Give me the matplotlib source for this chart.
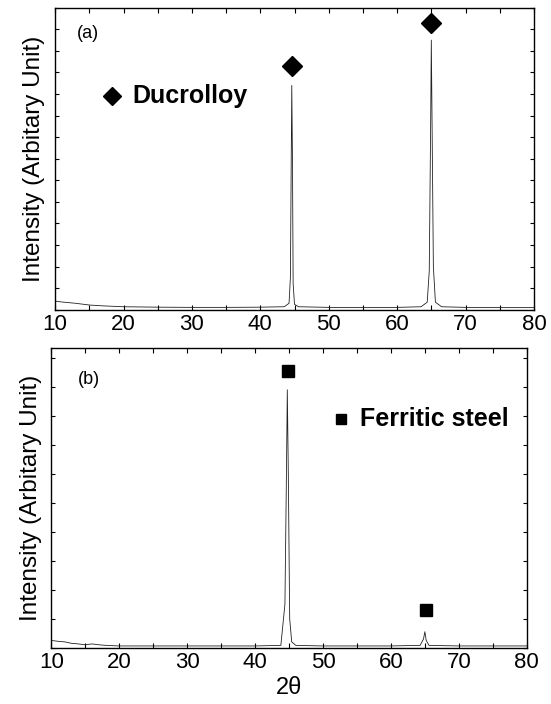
import matplotlib
matplotlib.use("Agg")
import matplotlib.pyplot as plt
from matplotlib.ticker import MultipleLocator

plt.rcParams['font.family'] = ['Liberation Sans', 'DejaVu Sans']

# (a) Ducrolloy pattern
tt_a = [10, 11, 12, 13, 14, 15, 17, 20, 25, 30, 35, 40, 43.5, 44.2, 44.4, 44.5, 44.6,
        44.7, 44.8, 45.0, 45.6, 50, 55, 60, 63.5, 64.4, 64.7, 64.9, 65.0, 65.1, 65.3,
        65.6, 66.5, 70, 75, 80]
int_a = [0.40, 0.36, 0.33, 0.30, 0.26, 0.22, 0.18, 0.14, 0.12, 0.11, 0.11, 0.12, 0.14,
         0.30, 1.5, 6.0, 10.4, 7.0, 1.2, 0.25, 0.14, 0.11, 0.10, 0.11, 0.14, 0.35, 1.8,
         8.5, 12.5, 9.0, 2.0, 0.35, 0.14, 0.11, 0.10, 0.10]
mark_a_x = [44.6, 65.0]
mark_a_y = [11.3, 13.3]

# (b) Ferritic steel pattern
tt_b = [10, 11, 12, 13, 14, 15, 16, 17, 18, 20, 25, 30, 35, 40, 43.8, 44.4, 44.6,
        44.75, 44.9, 45.1, 45.4, 46, 50, 55, 60, 64.3, 64.8, 65.0, 65.2, 65.6, 70, 75, 80]
int_b = [0.25, 0.22, 0.20, 0.15, 0.13, 0.10, 0.13, 0.10, 0.08, 0.06, 0.06, 0.06, 0.06,
         0.06, 0.08, 1.5, 5.5, 8.9, 6.0, 1.0, 0.2, 0.08, 0.06, 0.06, 0.06, 0.08, 0.3,
         0.55, 0.25, 0.08, 0.06, 0.06, 0.06]
mark_b_x = [44.8, 65.1]
mark_b_y = [9.55, 1.3]

xticks = [10, 20, 30, 40, 50, 60, 70, 80]

fig = plt.figure(figsize=(5.51, 7.04), dpi=100)
ax1 = fig.add_axes([0.100, 0.560, 0.869, 0.429])
ax2 = fig.add_axes([0.093, 0.080, 0.863, 0.426])


def style(ax, ytop):
    ax.set_xlim(10, 80)
    ax.set_ylim(0, ytop)
    ax.set_xticks(xticks)
    ax.xaxis.set_minor_locator(MultipleLocator(5))
    ax.yaxis.set_major_locator(MultipleLocator(1))
    ax.set_yticklabels([])
    ax.tick_params(which='both', direction='in', top=True, right=True,
                   length=3.5, width=0.8, labelsize=16, pad=3)
    ax.tick_params(axis='y', which='both', length=3)
    for s in ax.spines.values():
        s.set_linewidth(1.0)
    ax.set_ylabel('Intensity (Arbitary Unit)', fontsize=17.5, labelpad=4)


style(ax1, 14.0)
ax1.plot(tt_a, int_a, color='#222222', lw=0.6)
ax1.plot(mark_a_x, mark_a_y, 'D', color='black', ms=10.5, ls='none')
ax1.text(0.045, 0.90, '(a)', transform=ax1.transAxes, fontsize=13)
ax1.plot([18.3], [9.9], 'D', color='black', ms=9)
ax1.text(21.3, 9.9, 'Ducrolloy', fontsize=18, fontweight='bold', va='center')

style(ax2, 10.35)
ax2.plot(tt_b, int_b, color='#222222', lw=0.6)
ax2.plot(mark_b_x, mark_b_y, 's', color='black', ms=8.5, ls='none')
ax2.text(0.055, 0.88, '(b)', transform=ax2.transAxes, fontsize=13)
ax2.plot([52.7], [7.9], 's', color='black', ms=7.5)
ax2.text(55.4, 7.9, 'Ferritic steel', fontsize=18, fontweight='bold', va='center')
ax2.set_xlabel('2\u03b8', fontsize=17, labelpad=3)

fig.savefig('out.png', dpi=100)
